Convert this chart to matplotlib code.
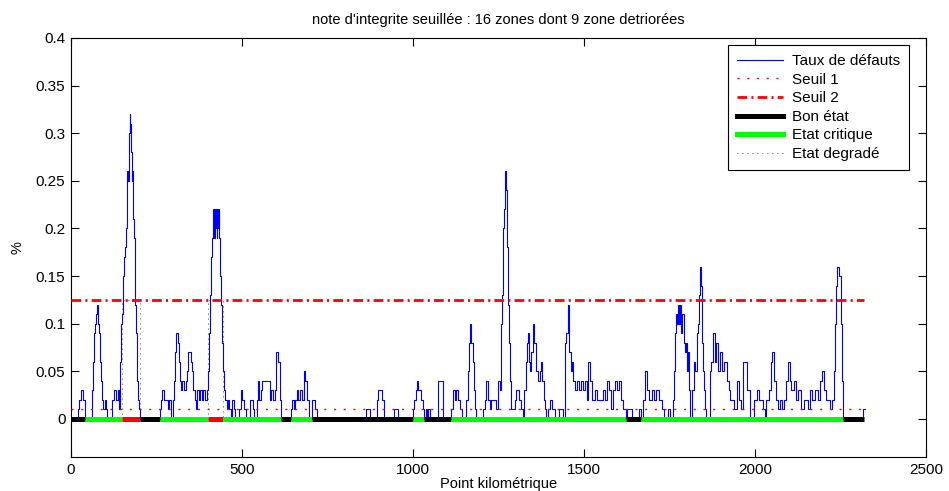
import matplotlib
matplotlib.use("Agg")
import matplotlib.pyplot as plt
from matplotlib.lines import Line2D
from matplotlib.ticker import FuncFormatter, MultipleLocator

plt.rcParams['font.family'] = ['Liberation Sans', 'DejaVu Sans']
plt.rcParams['font.size'] = 11

# ---- data: taux de defauts (step profile), (pk km, value %) ----
profil_0_260 = [(0, 0), (20, .01), (24, .02), (28, .03), (36, .02), (41, 0),
    (60, .01), (62, .03), (65, .06), (68, .09), (70, .10), (73, .11), (76, .12), (79, .10),
    (82, .09), (85, .06), (88, .04), (91, .02), (94, .01), (98, .02), (101, .01), (104, 0),
    (119, .02), (125, .03), (131, .02), (136, .03), (139, .02), (141, .01), (143, .06),
    (146, .10), (148, .11), (151, .13), (153, .15), (155, .17), (158, .18), (160, .20),
    (163, .23), (165, .26), (167, .25), (169, .28), (170, .30), (172, .32), (173, .30),
    (174, .31), (176, .28), (177, .25), (179, .26), (180, .24), (182, .21), (184, .19),
    (186, .15), (188, .12), (190, .09), (192, .05), (194, .04), (197, .02), (199, .01), (202, 0)]
profil_260_470 = [(260, .01), (263, .02), (267, .03), (273, .02), (283, .01), (287, .02),
    (291, 0), (298, .02), (302, .04), (305, .07), (307, .09), (313, .08), (316, .06),
    (319, .04), (322, .03), (326, .04), (329, .03), (337, .04), (340, .05), (343, .07),
    (350, .06), (354, .05), (358, .03), (362, .02), (366, .01), (369, .03), (374, .02),
    (378, .03), (383, .02), (387, .03), (392, .02), (397, .03), (401, .05), (403, .09),
    (406, .13), (408, .15), (410, .17), (412, .19), (414, .20), (416, .22), (418, .19),
    (420, .22), (422, .20), (424, .22), (426, .19), (428, .22), (430, .20), (432, .22),
    (434, .19), (437, .15), (440, .12), (442, .08), (444, .05), (447, .03), (451, .02),
    (455, .01), (459, .02), (463, .01), (467, 0)]
profil_470_1000 = [(471, .02), (476, .01), (480, 0), (492, .01), (496, .03), (501, .02),
    (506, .01), (511, 0), (522, .02), (531, .01), (536, 0), (544, .02), (548, .04),
    (551, .02), (555, .03), (559, .04), (571, .04), (581, .02), (585, .03), (590, .02),
    (596, .03), (600, .07), (606, .06), (611, .02), (615, 0),
    (642, .01), (646, .02), (651, .01), (655, .02), (661, .03), (665, .02), (670, .03),
    (675, .02), (680, .05), (685, .04), (691, .02), (695, 0), (706, .02), (714, .01), (719, 0),
    (862, .01), (875, 0), (896, .02), (899, .03), (910, .02), (914, 0), (943, .01), (957, 0)]
profil_1000_1320 = [(1001, .01), (1004, .02), (1008, .03), (1011, .04), (1015, .03),
    (1022, .02), (1028, .01), (1033, 0), (1037, .01), (1041, 0), (1045, .01), (1049, 0),
    (1073, .04), (1089, 0),
    (1112, .01), (1117, .03), (1123, .02), (1127, .03), (1132, .02), (1137, .01), (1142, 0),
    (1156, .02), (1160, .05), (1163, .08), (1166, .10), (1170, .08), (1174, .06), (1177, .03),
    (1181, .01), (1185, 0),
    (1205, .01), (1210, .02), (1214, .04), (1219, .02), (1224, .01), (1229, .02), (1244, .01),
    (1248, .04), (1255, .03), (1258, .10), (1261, .13), (1263, .20), (1266, .22), (1268, .26),
    (1272, .24), (1275, .18), (1278, .12), (1281, .08), (1284, .04), (1287, .01),
    (1297, .02), (1302, .03), (1311, .02), (1316, .01), (1321, 0)]
profil_1320_1670 = [(1326, .03), (1329, .06), (1332, .08), (1335, .09), (1338, .06),
    (1342, .05), (1346, .07), (1350, .10), (1355, .08), (1360, .05), (1365, .04), (1370, .05),
    (1374, .06), (1378, .04), (1382, .02), (1386, .01), (1390, 0), (1395, .01), (1400, .02),
    (1407, .01), (1414, 0), (1428, .01), (1438, 0),
    (1443, .08), (1448, .09), (1452, .12), (1457, .07), (1462, .05), (1465, .06), (1469, .04),
    (1474, .03), (1479, .04), (1485, .03), (1491, .04), (1498, .03), (1504, .04), (1509, .02),
    (1512, .06), (1518, .04), (1523, .02), (1532, .03), (1537, .02), (1556, .03), (1561, .02),
    (1568, .04), (1574, .03), (1578, .01), (1585, .03), (1590, .04), (1597, .03), (1603, .04),
    (1607, .02), (1615, .01), (1622, 0), (1626, .01), (1640, 0), (1661, .01), (1667, 0)]
profil_1670_2000 = [(1672, .02), (1677, .05), (1683, .03), (1690, .02), (1698, .03),
    (1705, .02), (1711, .03), (1718, .02), (1727, .01), (1735, 0), (1745, .01), (1752, 0),
    (1760, .02), (1764, .05), (1767, .09), (1770, .11), (1773, .10), (1776, .12), (1779, .10),
    (1782, .12), (1785, .09), (1788, .11), (1791, .08), (1794, .07), (1797, .08), (1800, .05),
    (1804, .07), (1808, .03), (1811, 0), (1816, .03), (1821, .06), (1825, .05), (1829, .09),
    (1833, .10), (1836, .13), (1839, .16), (1842, .14), (1845, .08), (1848, .05), (1851, .03),
    (1854, .01), (1858, 0),
    (1867, .05), (1872, .06), (1877, .09), (1882, .06), (1887, .08), (1892, .05), (1898, .07),
    (1904, .05), (1910, .06), (1917, .04), (1923, .03), (1928, .02), (1938, .01), (1946, .04),
    (1953, .02), (1958, .01), (1966, .06), (1976, .03), (1984, 0)]
profil_2000_2322 = [(1998, .02), (2005, .03), (2013, .02), (2022, .01), (2028, 0),
    (2033, .02), (2040, .03), (2046, .06), (2051, .07), (2057, .04), (2062, .02), (2068, .01),
    (2074, .02), (2080, .01), (2086, .02), (2091, .04), (2096, .06), (2101, .04), (2106, .03),
    (2113, .04), (2120, .02), (2127, .03), (2134, .01), (2144, .02), (2154, .01), (2160, .03),
    (2168, .02), (2176, .03), (2183, .02), (2189, .04), (2195, .05), (2201, .03), (2208, .02),
    (2218, .01), (2226, .02), (2231, .05), (2235, .10), (2238, .14), (2241, .16), (2246, .15),
    (2250, .10), (2254, .04), (2258, 0), (2316, .01), (2322, .01)]

# thresholds
seuil_1 = 0.01
seuil_2 = 0.125
pk_fin = 2319

# zones: boundaries (km) and state of each zone
zone_bornes = [0, 41, 148, 202, 259, 402, 443, 615, 644, 705, 1000, 1033, 1110,
               1623, 1667, 2257, 2319]
zone_etats = ['bon', 'critique', 'degrade', 'bon', 'critique', 'degrade', 'critique',
              'bon', 'critique', 'bon', 'critique', 'bon', 'critique', 'bon',
              'critique', 'bon']

titre = "note d'integrite seuillée : 16 zones dont 9 zone detriorées"
legendes = ['Taux de défauts', 'Seuil 1', 'Seuil 2', 'Bon état', 'Etat critique',
            'Etat degradé']

# ---- figure ----
profil = (profil_0_260 + profil_260_470 + profil_470_1000 + profil_1000_1320
          + profil_1320_1670 + profil_1670_2000 + profil_2000_2322)
pk = [p[0] for p in profil]
taux = [p[1] for p in profil]

fig = plt.figure(figsize=(9.49, 4.91), dpi=100)
ax = fig.add_axes([71 / 949, 1 - 457 / 491, 855 / 949, 419 / 491])

ax.plot(pk, taux, drawstyle='steps-post', color='#0000ff', lw=0.8, zorder=3)

s1_style = (0, (1.5, 5.5))
s2_style = (0, (3.5, 1.5, 0.75, 1.5))
deg_style = (0, (1, 5))

# degraded zones outline
for i, etat in enumerate(zone_etats):
    if etat == 'degrade':
        a, b = zone_bornes[i], zone_bornes[i + 1]
        ax.plot([a, a, b, b], [0, seuil_2, seuil_2, 0], color='black', lw=0.6,
                linestyle=deg_style, zorder=2)

ax.plot([0, pk_fin], [seuil_1, seuil_1], color='red', lw=1.0, linestyle=s1_style, zorder=4)
ax.plot([0, pk_fin], [seuil_2, seuil_2], color='red', lw=2.0, linestyle=s2_style, zorder=4)

couleurs = {'bon': 'black', 'critique': '#00ff00', 'degrade': 'red'}
for i, etat in enumerate(zone_etats):
    a, b = zone_bornes[i], zone_bornes[i + 1]
    ax.plot([a, b], [0, 0], color=couleurs[etat], lw=3.6, solid_capstyle='butt', zorder=5)

ax.set_xlim(0, 2500)
ax.set_ylim(-0.04, 0.4)
ax.xaxis.set_major_locator(MultipleLocator(500))
ax.yaxis.set_major_locator(MultipleLocator(0.05))
ax.yaxis.set_major_formatter(FuncFormatter(lambda v, p: '%g' % round(v, 3)))
ax.tick_params(direction='in', top=True, right=True, length=6, width=0.8, labelsize=11,
               pad=4)
for sp in ax.spines.values():
    sp.set_linewidth(0.8)

ax.set_title(titre, fontsize=10.5, pad=10)
ax.set_xlabel('Point kilométrique', fontsize=10.5, labelpad=0)
ax.set_ylabel('%', fontsize=10.5, labelpad=8)

handles = [
    Line2D([], [], color='#0000ff', lw=0.8),
    Line2D([], [], color='red', lw=1.0, linestyle=s1_style),
    Line2D([], [], color='red', lw=2.0, linestyle=s2_style),
    Line2D([], [], color='black', lw=3.6),
    Line2D([], [], color='#00ff00', lw=3.6),
    Line2D([], [], color='black', lw=0.6, linestyle=deg_style),
]
leg = ax.legend(handles, legendes, loc='upper right',
                bbox_to_anchor=((909 - 71) / 855, (457 - 45) / 419),
                borderaxespad=0, fontsize=11, handlelength=3.0, handletextpad=0.6,
                labelspacing=0.3, borderpad=0.6, fancybox=False, framealpha=1)
leg.get_frame().set_edgecolor('black')
leg.get_frame().set_linewidth(0.8)

fig.savefig('out.png', dpi=100)
